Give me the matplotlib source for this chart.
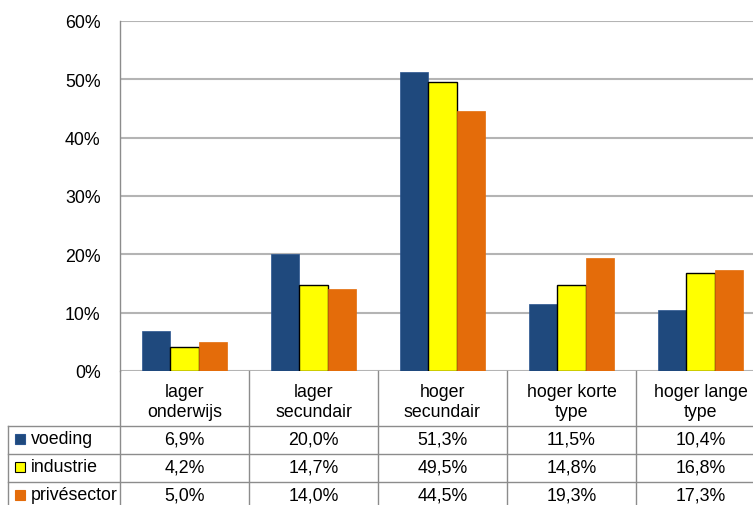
import numpy as np
import matplotlib.pyplot as plt
from matplotlib.lines import Line2D
from matplotlib.patches import Rectangle

plt.rcParams['font.family'] = ['Liberation Sans', 'DejaVu Sans']

# data
categories = ['lager\nonderwijs', 'lager\nsecundair', 'hoger\nsecundair',
              'hoger korte\ntype', 'hoger lange\ntype']
series = ['voeding', 'industrie', 'privésector']
voeding = [6.9, 20.0, 51.3, 11.5, 10.4]
industrie = [4.2, 14.7, 49.5, 14.8, 16.8]
privesector = [5.0, 14.0, 44.5, 19.3, 17.3]
values = [voeding, industrie, privesector]
colors = ['#1f497d', '#ffff00', '#e46c0a']
edges = ['#2a5590', '#000000', '#e46c0a']

W, H = 753, 506
fig = plt.figure(figsize=(W / 100, H / 100), dpi=100)

def fx(px):
    return px / W

def fy(py):
    return 1 - py / H

# plot area in pixels
x0, x1 = 120, 765
y_top, y_bot = 22, 372
ax = fig.add_axes([fx(x0), fy(y_bot), fx(x1 - x0), (y_bot - y_top) / H])

x = np.arange(len(categories))
bw = 0.222
for i, (vals, c, e) in enumerate(zip(values, colors, edges)):
    ax.bar(x + (i - 1) * bw, vals, width=bw, color=c, edgecolor=e,
           linewidth=1 if e == '#000000' else 0.5, zorder=3)

fs = 12.8
ax.set_xlim(-0.5, len(categories) - 0.5)
ax.set_ylim(0, 60)
ax.set_yticks(range(0, 61, 10))
ax.set_yticklabels([f'{v}%' for v in range(0, 61, 10)])
ax.set_xticks([])
ax.tick_params(axis='y', length=0, pad=14, labelsize=fs)
ax.yaxis.grid(True, color='#b4b4b4', linewidth=1.5, zorder=0)
for s in ['top', 'right', 'bottom']:
    ax.spines[s].set_visible(False)
ax.spines['left'].set_color('#8c8c8c')
ax.spines['left'].set_linewidth(1)

# data table below the chart
col_w = (x1 - x0) / len(categories)
row_tops = [427, 455, 483, 511]
lc = '#8c8c8c'

def hline(y, xa, xb):
    fig.add_artist(Line2D([fx(xa), fx(xb)], [fy(y), fy(y)], color=lc, lw=1))

def vline(xp, ya, yb):
    fig.add_artist(Line2D([fx(xp), fx(xp)], [fy(ya), fy(yb)], color=lc, lw=1))

for k in range(len(categories) + 1):
    vline(x0 + k * col_w, y_bot, H)
vline(8, row_tops[0], H)
for y in row_tops[:3]:
    hline(y, 8, x1)

for k, cat in enumerate(categories):
    fig.text(fx(x0 + (k + 0.5) * col_w), fy((y_bot + row_tops[0]) / 2 + 3), cat,
             ha='center', va='center', fontsize=fs, linespacing=1.3)

for r, (name, vals) in enumerate(zip(series, values)):
    yc = (row_tops[r] + row_tops[r + 1]) / 2 - 1
    fig.add_artist(Rectangle((fx(15), fy(yc + 5)), fx(10), 10 / H,
                             facecolor=colors[r], edgecolor=edges[r],
                             lw=0.8, transform=fig.transFigure))
    fig.text(fx(31), fy(yc), name, ha='left', va='center', fontsize=fs)
    for k, v in enumerate(vals):
        fig.text(fx(x0 + (k + 0.5) * col_w), fy(yc),
                 f'{v:.1f}%'.replace('.', ','), ha='center', va='center',
                 fontsize=fs)

fig.savefig('out.png', dpi=100)
